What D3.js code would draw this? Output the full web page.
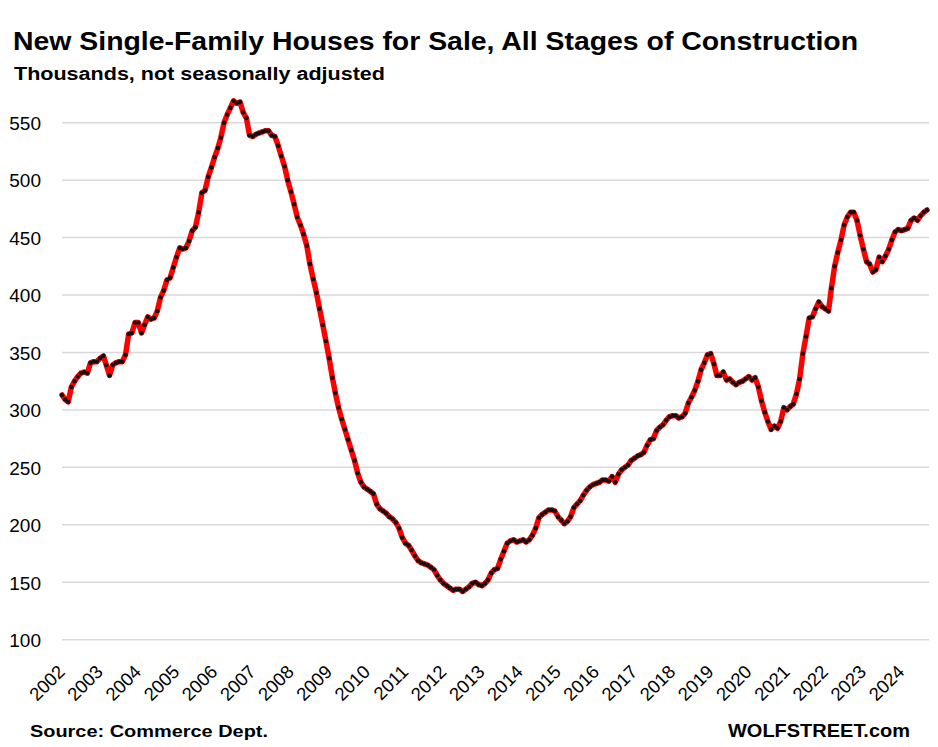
<!DOCTYPE html>
<html>
<head>
<meta charset="utf-8">
<script src="https://cdn.jsdelivr.net/npm/d3@7"></script>
<style>
  html, body { margin: 0; padding: 0; background: #fff; }
  svg { display: block; }
</style>
</head>
<body>
<svg id="chart" width="938" height="747"></svg>
<script>
// ---- Data (thousands, not seasonally adjusted), monthly from Jan 2002 ----
const startYear = 2002;
const values = [
  313,309,307,320,325,329,332,333,332,341,342,342, // 2002
  345,347,339,330,339,341,342,342,348,366,367,376, // 2003
  376,367,374,381,379,380,386,398,404,413,415,424, // 2004
  433,441,440,441,447,456,459,472,489,491,503,511, // 2005
  520,528,537,550,557,563,569,567,568,559,554,539, // 2006
  538,540,541,542,543,543,539,538,530,521,512,500, // 2007
  490,479,468,461,453,443,427,414,402,388,374,360, // 2008
  345,328,315,302,292,283,274,265,256,245,237,233, // 2009
  231,229,227,218,214,212,210,207,205,202,197,189, // 2010
  184,182,178,173,169,167,166,165,163,161,156,152, // 2011
  149,147,145,143,144,144,142,144,146,149,150,148, // 2012
  147,149,152,158,161,162,170,177,184,186,187,185, // 2013
  186,187,185,187,191,197,206,209,211,213,213,212, // 2014
  207,204,201,203,207,215,218,221,226,230,233,235, // 2015
  236,237,239,239,238,242,237,244,248,250,252,256, // 2016
  258,260,261,263,269,274,275,282,285,287,291,294, // 2017
  295,295,293,294,297,306,311,317,325,335,341,348, // 2018
  349,340,330,330,333,326,327,324,322,324,325,327, // 2019
  329,326,328,320,308,298,290,283,286,284,290,302, // 2020
  300,303,305,314,327,349,364,380,381,388,394,390, // 2021
  388,386,406,425,437,448,461,468,472,472,465,452, // 2022
  440,429,427,420,422,433,429,434,440,448,455,457, // 2023
  456,457,458,465,467,465,469,472,474              // 2024 (Jan-Sep)
];
const yearLabels = ["2002","2003","2004","2005","2006","2007","2008","2009","2010","2011","2012",
  "2013","2014","2015","2016","2017","2018","2019","2020","2021","2022","2023","2024"];
const yTicks = [100,150,200,250,300,350,400,450,500,550];

const titleText = "New Single-Family Houses for Sale, All Stages of Construction";
const subtitleText = "Thousands, not seasonally adjusted";
const sourceText = "Source: Commerce Dept.";
const brandText = "WOLFSTREET.com";

// ---- Build ----
const dates = values.map((v, i) => new Date(startYear, i, 1));
const data = values.map((v, i) => ({ date: dates[i], value: v }));

const svg = d3.select("#chart");
const plotLeft = 62, plotRight = 929;

const x = d3.scaleTime()
  .domain([dates[0], dates[dates.length - 1]])
  .range([62, 927]);
const y = d3.scaleLinear().domain([100, 550]).range([639.7, 122.7]);

// gridlines
svg.append("g").selectAll("line").data(yTicks).join("line")
  .attr("x1", plotLeft).attr("x2", plotRight)
  .attr("y1", d => y(d)).attr("y2", d => y(d))
  .attr("stroke", "#d9d9d9").attr("stroke-width", 1.5);

// y axis labels
const yAxis = d3.axisLeft(y).tickValues(yTicks).tickSize(0).tickPadding(0);
const yg = svg.append("g").attr("transform", "translate(41,0)").call(yAxis);
yg.select(".domain").remove();
yg.selectAll("text")
  .attr("font-family", "Liberation Sans, Arial, sans-serif")
  .attr("font-size", 19).attr("fill", "#000").attr("dy", "0.36em");

// x axis labels (rotated)
const xTickDates = yearLabels.map(s => new Date(+s, 0, 1));
const xAxis = d3.axisBottom(x).tickValues(xTickDates).tickSize(0)
  .tickFormat((d, i) => yearLabels[i]);
const xg = svg.append("g").call(xAxis);
xg.select(".domain").remove();
xg.selectAll(".tick").attr("transform", d => `translate(${x(d) + 4},673)`);
xg.selectAll("text")
  .attr("font-family", "Liberation Sans, Arial, sans-serif")
  .attr("font-size", 18.5).attr("fill", "#000")
  .attr("x", 0).attr("y", 0).attr("dy", 0)
  .attr("text-anchor", "end")
  .attr("transform", "rotate(-45)");

// line
const line = d3.line().x(d => x(d.date)).y(d => y(d.value));
svg.append("path").datum(data)
  .attr("d", line)
  .attr("fill", "none")
  .attr("stroke", "#ff0000")
  .attr("stroke-width", 5.5)
  .attr("stroke-linejoin", "round")
  .attr("stroke-linecap", "round");

// markers
svg.append("g").selectAll("circle").data(data).join("circle")
  .attr("cx", d => x(d.date)).attr("cy", d => y(d.value))
  .attr("r", 2.2).attr("fill", "#111");

// texts
function fitText(sel, w) {
  sel.attr("textLength", w).attr("lengthAdjust", "spacingAndGlyphs");
}
svg.append("text").text(titleText)
  .attr("x", 13).attr("y", 50)
  .attr("font-family", "Liberation Sans, Arial, sans-serif")
  .attr("font-weight", "bold").attr("font-size", 26)
  .call(fitText, 845);
svg.append("text").text(subtitleText)
  .attr("x", 14).attr("y", 80)
  .attr("font-family", "Liberation Sans, Arial, sans-serif")
  .attr("font-weight", "bold").attr("font-size", 18)
  .call(fitText, 371);
svg.append("text").text(sourceText)
  .attr("x", 30).attr("y", 737)
  .attr("font-family", "Liberation Sans, Arial, sans-serif")
  .attr("font-weight", "bold").attr("font-size", 17)
  .call(fitText, 238);
svg.append("text").text(brandText)
  .attr("x", 728).attr("y", 737)
  .attr("font-family", "Liberation Sans, Arial, sans-serif")
  .attr("font-weight", "bold").attr("font-size", 17.5)
  .call(fitText, 182);
</script>
</body>
</html>
